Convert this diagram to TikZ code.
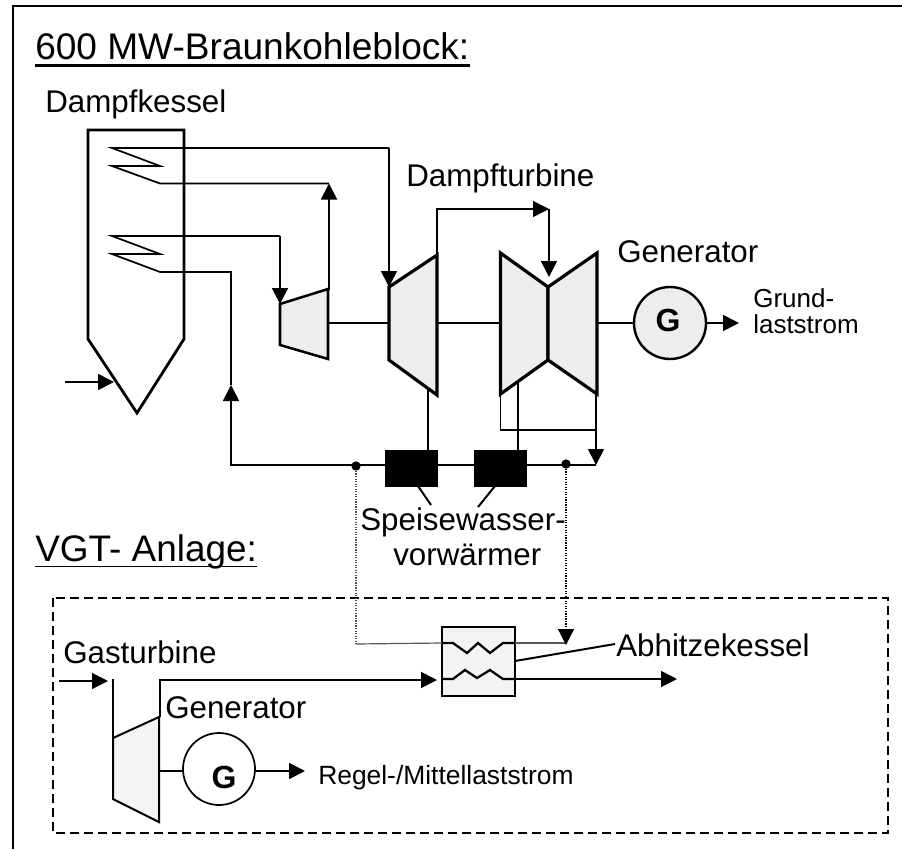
\documentclass[tikz,border=0pt]{standalone}
\usepackage{fontspec}
\setmainfont{Liberation Sans}
\usetikzlibrary{arrows.meta}
\definecolor{shade}{gray}{0.93}
\tikzset{
  x=0.75pt,y=-0.75pt,
  wire/.style={line width=1.3pt,line join=miter},
  heavy/.style={line width=2.1pt,line join=miter},
  light/.style={line width=0.9pt,gray!70!black},
  dotline/.style={line width=0.9pt,densely dotted,gray!60!black},
  casing/.style={line width=2.4pt,line join=miter,fill=shade},
  casingthin/.style={line width=1.5pt,line join=miter,fill=shade},
  tip/.style={-{Triangle[length=12pt,width=12pt]}},
  label/.style={inner sep=0pt,anchor=base west,text=black},
  dotnode/.style={circle,fill=black,inner sep=0pt,minimum size=7pt},
  heater/.style={fill=black,draw=black,inner sep=0pt,minimum width=39pt,minimum height=27pt},
  gen/.style={circle,draw=black,line width=1.8pt,fill=shade,inner sep=0pt,minimum size=54pt},
  gensmall/.style={circle,draw=black,line width=1.3pt,fill=white,inner sep=0pt,minimum size=54pt},
  big/.style={font=\fontsize{23.5pt}{26pt}\selectfont},
  small/.style={font=\fontsize{19.5pt}{22pt}\selectfont},
  gletter/.style={font=\fontsize{24pt}{26pt}\bfseries\selectfont,inner sep=0pt},
}
\begin{document}
\begin{tikzpicture}
\useasboundingbox (0,0) rectangle (902,849);
\fill[white] (0,0) rectangle (902,849);
% outer frame
\draw[line width=1.3pt] (13,849) -- (13,6) -- (902,6);
% titles
\node[label,font=\fontsize{27.8pt}{30pt}\selectfont] (title) at (35,60) {600 MW-Braunkohleblock:};
\draw[line width=2pt] ([yshift=-3.9pt]title.base west) -- ([yshift=-3.9pt]title.base east);
\node[label,big] (kessel) at (45,113) {Dampfkessel};
\node[label,big] (dturb) at (406,186) {Dampfturbine};
\node[label,big] (gen1) at (617,262) {Generator};
\node[label,small] (grund) at (753,307) {Grund-};
\node[label,small] (last) at (753,333) {laststrom};
\node[label,big] (sp1) at (360,530) {Speisewasser-};
\node[label,big] (sp2) at (393,565) {vorwärmer};
\node[label,font=\fontsize{27.7pt}{30pt}\selectfont] (vgt) at (35,561) {VGT- Anlage:};
\draw[line width=1.1pt] ([yshift=-4pt]vgt.base west) -- ([yshift=-4pt]vgt.base east);
\node[label,big] (gast) at (63,663) {Gasturbine};
\node[label,big] (gen2) at (165,718) {Generator};
\node[label,font=\fontsize{19.8pt}{22pt}\selectfont] (regel) at (318,784) {Regel-/Mittellaststrom};
\node[label,big] (abh) at (616,656) {Abhitzekessel};
% dashed box
\draw[line width=1.9pt,dash pattern=on 6.5pt off 4pt] (53,598) rectangle (888,833);
% boiler
\draw[heavy] (88,130) -- (184,130) -- (184,339) -- (137,413) -- (88,339) -- cycle;
% coils
\draw[wire] (389,148) -- (112,148) -- (160,166) -- (112,166) -- (160,183.5) -- (329,183.5);
\draw[wire] (280,236) -- (112,236) -- (160,254) -- (112,254) -- (160,272) -- (231,272) -- (231,385);
% turbines
\draw[casing,line width=1.9pt] (280,304) -- (328,289) -- (328,359) -- (280,345) -- cycle;
\draw[casing] (389,287) -- (437,255) -- (437,395) -- (389,360) -- cycle;
\draw[casing] (500.5,253) -- (548,287) -- (548,360) -- (500.5,394) -- cycle;
\draw[casing] (597,253) -- (548,287) -- (548,360) -- (597,394) -- cycle;
% generator and shafts
\node[gen] (g1) at (670,323) {};
\node[gletter] (g1l) at (668,320) {G};
\draw[heavy] (328,323) -- (389,323);
\draw[heavy] (437,323) -- (500.5,323);
\draw[wire] (597,323) -- (g1);
\coordinate (g1out) at (739,323);
\draw[wire,tip] (g1) -- (g1out);
% live steam arrows
\draw[wire,tip] (329,290) -- (329,183.5);
\draw[wire,tip] (389,148) -- (389,287);
\draw[wire,tip] (280,236) -- (280,304);
\draw[wire,tip] (437,255) -- (437,209) -- (549,209);
\draw[wire,tip] (549,209) -- (549,277);
% feedwater
\node[heater] (h1) at (411.5,468) {};
\node[heater] (h2) at (500,468) {};
\coordinate (fwend) at (596,465);
\draw[wire] (h1.east |- fwend) -- (h2.west |- fwend);
\draw[wire] (h2.east |- fwend) -- (fwend);
\draw[wire,tip] (h1.west |- fwend) -- (231,465) -- (231,385);
\draw[wire] (428,390) -- (428,450);
\draw[wire] (518,382) -- (518,450);
\draw[wire] (500.5,394) -- (500.5,430) -- (596,430);
\draw[wire,tip] (596,394) -- (fwend);
\node[dotnode] (d1) at (356,466) {};
\node[dotnode] (d2) at (566,464) {};
% furnace inlet
\coordinate (fin) at (65,382);
\coordinate (fout) at (114,382);
\draw[wire,tip] (fin) -- (fout);
% pointers
\coordinate (p1) at (431,505);
\coordinate (p2) at (478,507);
\draw[wire,line width=1.5pt] (418,486) -- (p1);
\draw[wire,line width=1.5pt] (495,486) -- (p2);
% VGT
\draw[casingthin,fill=shade!60!white] (113,738) -- (159,717) -- (159,822) -- (113,799) -- cycle;
\draw[wire] (113,679) -- (113,738);
\coordinate (gtin) at (59,681);
\coordinate (gtend) at (108,681);
\draw[light,black,-{Triangle[length=12pt,width=12pt]}] (gtin) -- (gtend);
\node[gensmall] (g2) at (219,769) {};
\node[gletter] (gl) at (224,777) {G};
\draw[wire] (160,771) -- (g2.west |- 0,771);
\coordinate (g2out) at (305,771);
\draw[wire,tip] (g2.east |- g2out) -- (g2out);
% heat exchanger
\node[draw=black,line width=1.5pt,fill=shade!70!white,minimum width=54.75pt,minimum height=51.75pt,inner sep=0pt] (hx) at (478.5,661.5) {};
\draw[heavy,line width=1.7pt] (442,643) -- (453,643) -- (467,653) -- (478,643) -- (490,653) -- (503,643) -- (515,643);
\draw[heavy,line width=1.7pt] (442,679) -- (453,679) -- (465,670) -- (477,678) -- (490,670) -- (503,679) -- (515,679);
\draw[wire,tip] (160,717) -- (160,680) -- (437,680);
\coordinate (hxout) at (677,679);
\draw[wire,tip] (515,679) -- (hxout);
\coordinate (abhl) at (615,644);
\draw[wire,line width=1.5pt] (515,661) -- (abhl);
% dotted links
\draw[dotline] (d1) -- (356,644);
\draw[light] (356,644) -- (442,643);
\draw[light] (515,643) -- (566,643);
\draw[dotline,black,-{Triangle[length=12pt,width=12pt]}] (d2) -- (566,645);
\end{tikzpicture}
\end{document}
